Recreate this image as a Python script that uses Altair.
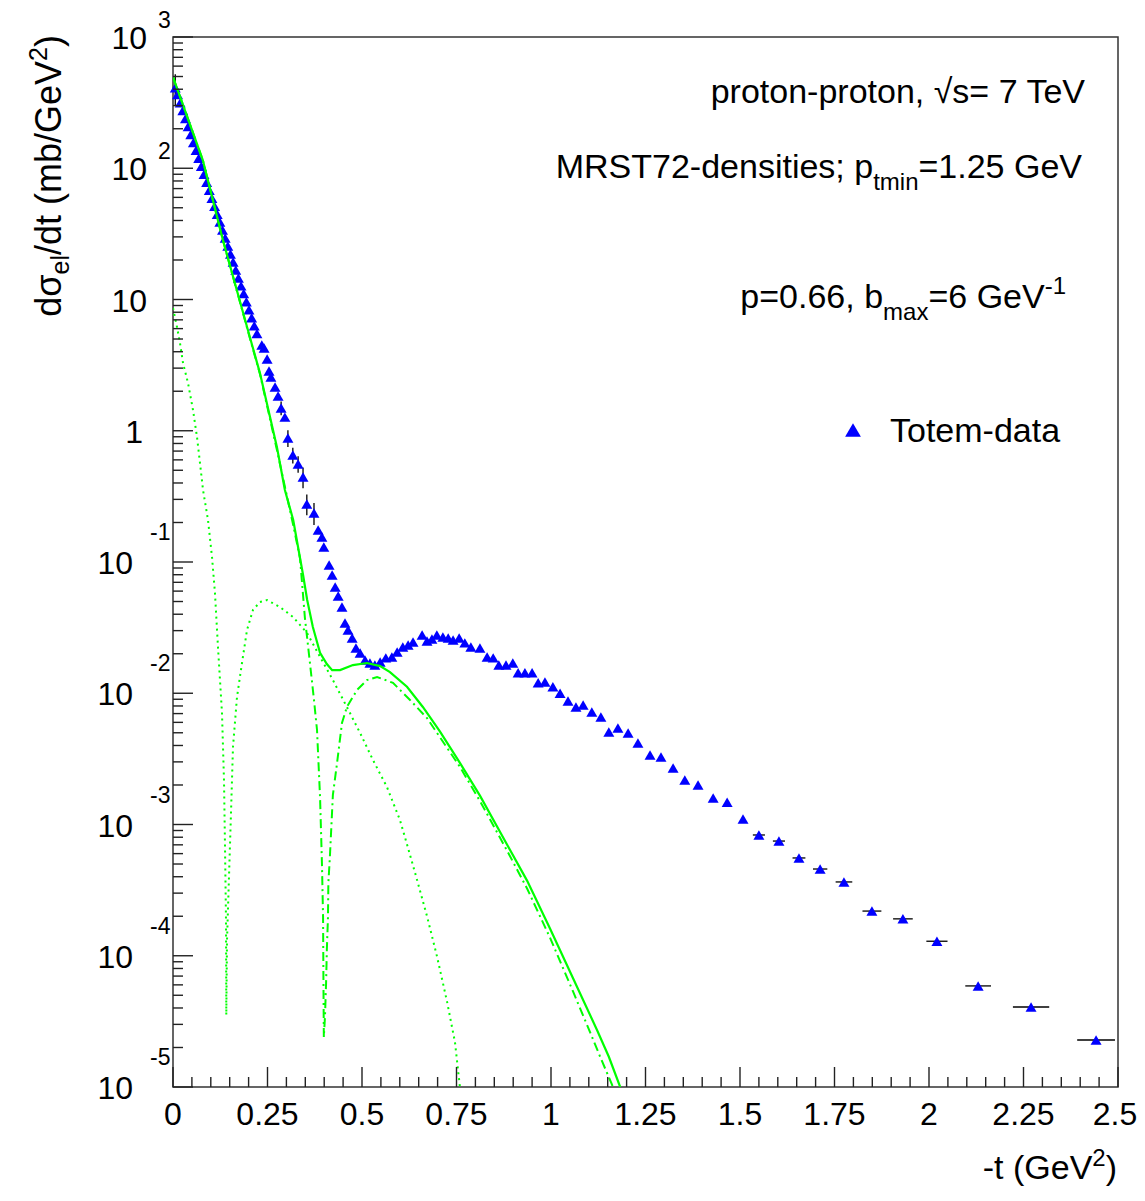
import altair as alt
import pandas as pd

# ---------------- data ----------------
# TOTEM elastic pp data at sqrt(s)=7 TeV
t_data = [0.006, 0.012, 0.019, 0.026, 0.033, 0.040, 0.047, 0.054, 0.061, 0.068,
          0.075, 0.082, 0.089, 0.096, 0.103, 0.110, 0.117, 0.124, 0.131, 0.138,
          0.145, 0.152, 0.159, 0.166, 0.173, 0.180, 0.187, 0.194, 0.201, 0.208,
          0.215, 0.222, 0.235, 0.241, 0.249, 0.254, 0.259, 0.270, 0.278, 0.286,
          0.296, 0.304, 0.317, 0.331, 0.344, 0.354, 0.373, 0.384, 0.394, 0.399,
          0.413, 0.421, 0.429, 0.437, 0.447, 0.455, 0.463, 0.474, 0.484, 0.495,
          0.508, 0.521, 0.534, 0.548, 0.563, 0.579, 0.593, 0.608, 0.622, 0.635,
          0.659, 0.672, 0.685, 0.698, 0.714, 0.728, 0.741, 0.757, 0.772, 0.788,
          0.812, 0.831, 0.847, 0.862, 0.881, 0.899, 0.913, 0.931, 0.950, 0.966,
          0.984, 1.005, 1.024, 1.045, 1.066, 1.085, 1.108, 1.132, 1.153, 1.177,
          1.204, 1.230, 1.262, 1.291, 1.323, 1.354, 1.389, 1.429, 1.466, 1.508,
          1.550, 1.603, 1.656, 1.712, 1.775, 1.849, 1.931, 2.021, 2.130, 2.270,
          2.442]
dsdt_data = [410, 364, 316, 275, 239, 208, 181, 157, 137, 119,
             103.5, 90.0, 78.2, 68.0, 59.2, 51.4, 44.7, 38.9, 33.8, 29.4,
             25.6, 22.2, 19.3, 16.8, 14.6, 12.7, 11.1, 9.6, 8.36, 7.27,
             6.32, 5.50, 4.50, 4.27, 3.52, 2.85, 2.57, 2.15, 1.84, 1.49,
             1.27, 0.881, 0.653, 0.558, 0.445, 0.277, 0.236, 0.175, 0.155, 0.130,
             0.0948, 0.0796, 0.0645, 0.0551, 0.0454, 0.0343, 0.0303, 0.0264, 0.0221, 0.0203,
             0.0179, 0.0170, 0.0164, 0.0173, 0.0186, 0.0189, 0.0206, 0.0225, 0.0233, 0.0246,
             0.0278, 0.0250, 0.0259, 0.0278, 0.0268, 0.0264, 0.0255, 0.0264, 0.0242, 0.0225,
             0.0221, 0.0189, 0.0186, 0.0164, 0.0164, 0.0170, 0.0143, 0.0143, 0.0143, 0.0120,
             0.0122, 0.0112, 0.0100, 0.00873, 0.00786, 0.00813, 0.00719, 0.00659, 0.00507, 0.00543,
             0.00498, 0.00418, 0.00339, 0.00327, 0.00269, 0.00218, 0.00200, 0.00159, 0.00148, 0.00110,
             0.000832, 0.000748, 0.000556, 0.000458, 0.000365, 0.000219, 0.000191, 0.000129, 5.89e-5, 4.07e-5,
             2.28e-5]

# horizontal (bin) errors
hbar_t = [1.550, 1.603, 1.656, 1.712, 1.775, 1.849, 1.931, 2.021, 2.130, 2.270, 2.442]
hbar_half = [0.016, 0.016, 0.017, 0.019, 0.022, 0.025, 0.026, 0.028, 0.034, 0.048, 0.050]
# vertical errors
vbar_t = [0.006, 0.286, 0.304, 0.317, 0.331, 0.344, 0.354, 0.373]
vbar_err = [110, 0.18, 0.13, 0.09, 0.08, 0.08, 0.05, 0.045]

# model curves
total_t = [0.000, 0.079, 0.132, 0.204, 0.230, 0.275, 0.296, 0.318, 0.344, 0.355,
           0.370, 0.389, 0.407, 0.421, 0.442, 0.476, 0.513, 0.548, 0.574, 0.619,
           0.661, 0.706, 0.759, 0.812, 0.884, 0.937, 0.997, 1.058, 1.122, 1.153,
           1.183]
total_y = [495, 115, 28.4, 5.09, 2.75, 0.75, 0.354, 0.209, 0.080, 0.0513,
           0.0320, 0.0203, 0.0167, 0.0150, 0.0150, 0.0164, 0.0170, 0.0161, 0.0145, 0.0112,
           0.00786, 0.00513, 0.00295, 0.00166, 0.000700, 0.000372, 0.000162, 6.76e-5, 2.71e-5, 1.7e-5,
           1.0e-5]

imag_t = [0.000, 0.079, 0.132, 0.204, 0.230, 0.275, 0.318, 0.336, 0.349, 0.362,
          0.373, 0.381, 0.389, 0.394, 0.397, 0.398, 0.399, 0.402, 0.405, 0.407,
          0.410, 0.411, 0.415, 0.423, 0.434, 0.447, 0.460, 0.487, 0.513, 0.540,
          0.582, 0.627, 0.672, 0.759, 0.812, 0.884, 0.937, 0.997, 1.058, 1.103,
          1.130, 1.164]
imag_y = [495, 115, 28.4, 5.0, 2.71, 0.713, 0.191, 0.107, 0.0374, 0.0173,
          0.00889, 0.00525, 0.00162, 0.000509, 0.000197, 6.19e-5, 2.40e-5, 3.41e-5, 6.19e-5, 0.000111,
          0.000197, 0.000358, 0.000565, 0.00168, 0.00294, 0.00593, 0.00786, 0.0106, 0.0126, 0.0133,
          0.0120, 0.00889, 0.00647, 0.00275, 0.00151, 0.000631, 0.000324, 0.000138, 5.37e-5, 2.63e-5,
          1.70e-5, 1.0e-5]

real_t = [0.000, 0.0106, 0.0185, 0.0265, 0.0397, 0.0529, 0.0635, 0.0714, 0.0794, 0.0926,
          0.1032, 0.111, 0.119, 0.1296, 0.1349, 0.1376, 0.1402, 0.1410, 0.1429, 0.1481,
          0.1534, 0.1587, 0.1693, 0.1825, 0.1958, 0.2116, 0.230, 0.2487, 0.283, 0.3175,
          0.3545, 0.389, 0.423, 0.460, 0.495, 0.529, 0.566, 0.6005, 0.614, 0.6455,
          0.672, 0.698, 0.725, 0.746, 0.759]
real_y = [8.61, 6.17, 4.66, 3.28, 2.31, 1.44, 0.896, 0.568, 0.354, 0.209,
          0.109, 0.0581, 0.0225, 0.00708, 0.00218, 0.000674, 0.000187, 3.54e-5, 0.000132, 0.000398,
          0.00122, 0.00389, 0.00935, 0.0170, 0.0303, 0.0431, 0.0496, 0.0513, 0.0454, 0.0381,
          0.0288, 0.0189, 0.0126, 0.00786, 0.00498, 0.00310, 0.00193, 0.00108, 0.000794, 0.00038,
          0.00020, 0.00010, 4.47e-5, 2.19e-5, 1.0e-5]

x_major = [0, 0.25, 0.5, 0.75, 1, 1.25, 1.5, 1.75, 2, 2.25, 2.5]
x_labels = ["0", "0.25", "0.5", "0.75", "1", "1.25", "1.5", "1.75", "2", "2.25", "2.5"]
y_exponents = [3, 2, 1, 0, -1, -2, -3, -4, -5]

ann_line1 = "proton-proton, \u221as= 7 TeV"
ann_line2 = ["MRST72-densities; p", "tmin", "=1.25 GeV"]
ann_line3 = ["p=0.66, b", "max", "=6 GeV", "-1"]
legend_label = "Totem-data"
x_title = ["-t (GeV", "2", ")"]
y_title = ["d\u03c3", "el", "/dt (mb/GeV", "2", ")"]

# ---------------- helpers ----------------
FONT = "Liberation Sans"
AW = {' ': 278, '!': 278, '(': 333, ')': 333, ',': 278, '-': 333, '.': 278, '/': 278,
      ';': 278, '=': 584, '\u221a': 549, '\u03c3': 600,
      'A': 667, 'B': 667, 'C': 722, 'D': 722, 'E': 667, 'F': 611, 'G': 778, 'H': 722,
      'I': 278, 'M': 833, 'N': 722, 'O': 778, 'P': 667, 'R': 722, 'S': 667, 'T': 611,
      'V': 667, 'a': 556, 'b': 556, 'c': 500, 'd': 556, 'e': 556, 'f': 278, 'g': 556,
      'h': 556, 'i': 222, 'k': 500, 'l': 222, 'm': 833, 'n': 556, 'o': 556, 'p': 556,
      'r': 333, 's': 500, 't': 278, 'u': 556, 'v': 500, 'x': 500, 'y': 500}


def tw(s, size):
    return sum(AW.get(c, 556) for c in s) * size / 1000.0


one = pd.DataFrame({"k": [0]})


def piece(s, x, y, size, align="left", angle=0):
    return alt.Chart(one).mark_text(
        text=s, font=FONT, fontSize=size, align=align, baseline="alphabetic",
        angle=angle, color="black"
    ).encode(x=alt.value(x), y=alt.value(y))


W, H = 945, 1050
xs = alt.Scale(domain=[0, 2.5], nice=False, zero=False)
ys = alt.Scale(type="log", domain=[1e-5, 1e3], nice=False)


def X(f):
    return alt.X(f, type="quantitative", scale=xs, axis=None)


def Y(f):
    return alt.Y(f, type="quantitative", scale=ys, axis=None)


GREEN = "#00ff00"
BLUE = "#0000ff"

# ---------------- data frames ----------------
pts = pd.DataFrame({"t": t_data, "v": dsdt_data})
lookup = dict(zip(t_data, dsdt_data))
hb = pd.DataFrame({"t": hbar_t, "h": hbar_half})
hb["lo"] = hb["t"] - hb["h"]
hb["hi"] = hb["t"] + hb["h"]
hb["v"] = [lookup[t] for t in hbar_t]
vb = pd.DataFrame({"t": vbar_t, "e": vbar_err})
vb["v"] = [lookup[t] for t in vbar_t]
vb["lo"] = vb["v"] - vb["e"]
vb["hi"] = vb["v"] + vb["e"]


def curve(ts, vs):
    return pd.DataFrame({"t": ts, "v": vs, "i": list(range(len(ts)))})


layers = []

# error bars
layers.append(alt.Chart(hb).mark_rule(color="black", strokeWidth=1.3).encode(
    x=X("lo"), x2="hi", y=Y("v")))
layers.append(alt.Chart(vb).mark_rule(color="black", strokeWidth=1.3).encode(
    x=X("t"), y=Y("lo"), y2="hi"))

# data points
layers.append(alt.Chart(pts).mark_point(
    shape="triangle-up", filled=True, color=BLUE, opacity=1, size=120, strokeWidth=0
).encode(x=X("t"), y=Y("v")))

# model curves
layers.append(alt.Chart(curve(real_t, real_y)).mark_line(
    color=GREEN, strokeWidth=2, strokeDash=[2, 4], clip=True
).encode(x=X("t"), y=Y("v"), order="i:Q"))
layers.append(alt.Chart(curve(imag_t, imag_y)).mark_line(
    color=GREEN, strokeWidth=2, strokeDash=[9, 4, 2, 4], clip=True
).encode(x=X("t"), y=Y("v"), order="i:Q"))
layers.append(alt.Chart(curve(total_t, total_y)).mark_line(
    color=GREEN, strokeWidth=2.2, clip=True
).encode(x=X("t"), y=Y("v"), order="i:Q"))

# ---------------- ticks (inward, ROOT style) ----------------
x_minor = [round(0.05 * k, 2) for k in range(51) if k % 5 != 0]
y_major = [10.0 ** n for n in y_exponents]
y_minor = [m * 10.0 ** n for n in range(-5, 3) for m in range(2, 10)]
TICK = "#222222"
layers.append(alt.Chart(pd.DataFrame({"t": x_major})).mark_rule(color=TICK, strokeWidth=1.4).encode(
    x=X("t"), y=alt.value(H), y2=alt.value(H - 20)))
layers.append(alt.Chart(pd.DataFrame({"t": x_minor})).mark_rule(color=TICK, strokeWidth=1.4).encode(
    x=X("t"), y=alt.value(H), y2=alt.value(H - 10)))
layers.append(alt.Chart(pd.DataFrame({"v": y_major})).mark_rule(color=TICK, strokeWidth=1.4).encode(
    y=Y("v"), x=alt.value(0), x2=alt.value(20)))
layers.append(alt.Chart(pd.DataFrame({"v": y_minor})).mark_rule(color=TICK, strokeWidth=1.4).encode(
    y=Y("v"), x=alt.value(0), x2=alt.value(10)))

# ---------------- tick labels ----------------
LAB = 32
EXP = 23
xl = pd.DataFrame({"t": x_major, "lab": x_labels})
xl_main = xl.iloc[:-1]
xl_last = xl.iloc[-1:]
layers.append(alt.Chart(xl_main).mark_text(font=FONT, fontSize=LAB, align="center", baseline="middle",
                                           color="black").encode(
    x=X("t"), y=alt.value(H + 28), text="lab:N"))
layers.append(alt.Chart(xl_last).mark_text(font=FONT, fontSize=LAB, align="center", baseline="middle",
                                           dx=-3, color="black").encode(
    x=X("t"), y=alt.value(H + 28), text="lab:N"))

yl = pd.DataFrame({"v": [10.0 ** n for n in y_exponents], "n": y_exponents})
yl["base"] = ["1" if n == 0 else "10" for n in y_exponents]
yl["exp"] = [str(n) for n in y_exponents]
ypos = yl[yl["n"] >= 1]
yzero = yl[yl["n"] == 0]
yneg = yl[yl["n"] < 0]
ysup = yl[yl["n"] >= 2]
layers.append(alt.Chart(ypos).mark_text(font=FONT, fontSize=LAB, align="right", baseline="middle",
                                        dy=2, color="black").encode(
    y=Y("v"), x=alt.value(-26), text="base:N"))
layers.append(alt.Chart(yzero).mark_text(font=FONT, fontSize=LAB, align="right", baseline="middle",
                                         dy=2, color="black").encode(
    y=Y("v"), x=alt.value(-30), text="base:N"))
layers.append(alt.Chart(yneg).mark_text(font=FONT, fontSize=LAB, align="right", baseline="middle",
                                        dy=2, color="black").encode(
    y=Y("v"), x=alt.value(-40), text="base:N"))
layers.append(alt.Chart(ysup).mark_text(font=FONT, fontSize=EXP, align="left", baseline="middle",
                                        dy=-16, color="black").encode(
    y=Y("v"), x=alt.value(-15), text="exp:N"))
layers.append(alt.Chart(yneg).mark_text(font=FONT, fontSize=EXP, align="left", baseline="middle",
                                        dy=-29, color="black").encode(
    y=Y("v"), x=alt.value(-23), text="exp:N"))

# ---------------- axis titles ----------------
# x title, right aligned at the end of the axis
XT = 34
XTS = 24
xr = 944
xb = H + 92
layers.append(piece(x_title[2], xr, xb, XT, align="right"))
layers.append(piece(x_title[1], xr - tw(x_title[2], XT), xb - 13, XTS, align="right"))
layers.append(piece(x_title[0], xr - tw(x_title[2], XT) - tw(x_title[1], XTS), xb, XT, align="right"))

# y title, rotated, end at the top of the axis
YT = 36
YTS = 25
yb = -112
ytop = -2
sizes = [YT, YTS, YT, YTS, YT]
shifts = [0, 8, 0, -14, 0]
pos = ytop
for s, sz, sh in reversed(list(zip(y_title, sizes, shifts))):
    layers.append(piece(s, yb + sh, pos, sz, align="right", angle=270))
    pos += tw(s, sz)

# ---------------- annotations ----------------
AS = 34
ASS = 24
layers.append(piece(ann_line1, 912, 66, AS, align="right"))

r = 909
b2 = 141
layers.append(piece(ann_line2[2], r, b2, AS, align="right"))
r -= tw(ann_line2[2], AS)
layers.append(piece(ann_line2[1], r, b2 + 12, ASS, align="right"))
r -= tw(ann_line2[1], ASS)
layers.append(piece(ann_line2[0], r, b2, AS, align="right"))

r = 893
b3 = 271
layers.append(piece(ann_line3[3], r, b3 - 14, ASS, align="right"))
r -= tw(ann_line3[3], ASS)
layers.append(piece(ann_line3[2], r, b3, AS, align="right"))
r -= tw(ann_line3[2], AS)
layers.append(piece(ann_line3[1], r, b3 + 12, ASS, align="right"))
r -= tw(ann_line3[1], ASS)
layers.append(piece(ann_line3[0], r, b3, AS, align="right"))

# legend
layers.append(alt.Chart(one).mark_point(shape="triangle-up", filled=True, color=BLUE, opacity=1,
                                        size=250, strokeWidth=0).encode(
    x=alt.value(680), y=alt.value(393)))
layers.append(piece(legend_label, 717, 405, AS, align="left"))

chart = alt.layer(*layers).properties(
    width=W, height=H,
    padding={"left": 165, "top": 29, "right": 19, "bottom": 100},
    autosize=alt.AutoSizeParams(type="none"),
    background="white",
).configure_view(stroke="#333333", strokeWidth=1.5)

chart.save("out.html", embed_options={"renderer": "svg", "actions": False})
